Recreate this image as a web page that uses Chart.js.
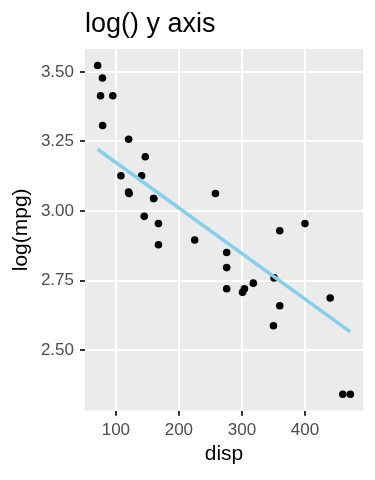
<!DOCTYPE html>
<html lang="en">
<head>
  <meta charset="UTF-8">
  <title>log() y axis</title>
  <script src="https://cdn.jsdelivr.net/npm/chart.js"></script>
  <style>
    body { margin: 0; background: #fff; }
    canvas { display: block; }
  </style>
</head>
<body>
  <canvas id="chart" width="375" height="480"></canvas>

  <script>
    // mtcars: disp vs log(mpg)
    const disp = [160, 160, 108, 258, 360, 225, 360, 146.7, 140.8, 167.6, 167.6, 275.8, 275.8, 275.8,
                  472, 460, 440, 78.7, 75.7, 71.1, 120.1, 318, 304, 350, 400, 79, 120.3, 95.1, 351, 145, 301, 121];
    const logMpg = [3.045, 3.045, 3.127, 3.063, 2.929, 2.896, 2.660, 3.195, 3.127, 2.955, 2.879, 2.797, 2.851, 2.721,
                    2.342, 2.342, 2.688, 3.478, 3.414, 3.523, 3.068, 2.741, 2.721, 2.588, 2.955, 3.307, 3.258, 3.414, 2.760, 2.981, 2.708, 3.063];

    // fitted line (lm), read at both ends
    const fitX = [71.1, 472];
    const fitY = [3.222, 2.566];

    const xMajor = [100, 200, 300, 400];
    const xMinor = [150, 250, 350, 450];
    const yMajor = [2.5, 2.75, 3.0, 3.25, 3.5];
    const yMinor = [2.375, 2.625, 2.875, 3.125, 3.375];

    const FONT = "'Liberation Sans', Arial, sans-serif";

    const panelBg = {
      id: 'panelBg',
      beforeDraw(chart) {
        const { ctx, chartArea: a } = chart;
        ctx.save();
        ctx.fillStyle = '#EBEBEB';
        ctx.fillRect(a.left, a.top, a.right - a.left, a.bottom - a.top);
        ctx.restore();
      },
      afterDraw(chart) {
        const ctx = chart.ctx;
        ctx.save();
        ctx.fillStyle = '#000';
        ctx.font = '27px ' + FONT;
        ctx.textBaseline = 'alphabetic';
        ctx.fillText('log() y axis', chart.chartArea.left, 32);
        ctx.restore();
      }
    };

    function gridOpts(majors) {
      const isMajor = (c) => c.tick && majors.includes(c.tick.value);
      return {
        color: '#FFFFFF',
        lineWidth: (c) => isMajor(c) ? 2 : 1,
        tickColor: (c) => isMajor(c) ? '#333333' : 'rgba(0,0,0,0)',
        tickWidth: 2,
        tickLength: 5
      };
    }

    new Chart(document.getElementById('chart'), {
      type: 'scatter',
      data: {
        datasets: [
          {
            type: 'line',
            data: fitX.map((x, i) => ({ x: x, y: fitY[i] })),
            borderColor: '#87CEEB',
            borderWidth: 3.5,
            pointRadius: 0,
            fill: false,
            order: 0
          },
          {
            data: disp.map((x, i) => ({ x: x, y: logMpg[i] })),
            backgroundColor: '#000000',
            borderWidth: 0,
            pointRadius: 3.8,
            order: 1
          }
        ]
      },
      options: {
        responsive: false,
        animation: false,
        layout: { padding: { left: 0, right: 12, top: 49, bottom: 0 } },
        plugins: {
          legend: { display: false },
          tooltip: { enabled: false }
        },
        scales: {
          x: {
            type: 'linear',
            min: 51.05,
            max: 492.05,
            afterBuildTicks: (s) => { s.ticks = xMajor.concat(xMinor).sort((a, b) => a - b).map(v => ({ value: v })); },
            afterFit: (s) => { s.height = 69.3; },
            border: { display: false },
            grid: gridOpts(xMajor),
            ticks: {
              autoSkip: false,
              maxRotation: 0,
              padding: 4,
              color: '#4D4D4D',
              font: { family: FONT, size: 17 },
              callback: (v) => xMajor.includes(v) ? String(v) : null
            },
            title: {
              display: true,
              text: 'disp',
              color: '#000',
              font: { family: FONT, size: 21 },
              padding: { top: 0, bottom: 13 }
            }
          },
          y: {
            type: 'linear',
            min: 2.283,
            max: 3.582,
            afterBuildTicks: (s) => { s.ticks = yMajor.concat(yMinor).sort((a, b) => a - b).map(v => ({ value: v })); },
            afterFit: (s) => { s.width = 85; },
            border: { display: false },
            grid: gridOpts(yMajor),
            ticks: {
              autoSkip: false,
              padding: 6,
              color: '#4D4D4D',
              font: { family: FONT, size: 17 },
              callback: (v) => yMajor.includes(v) ? v.toFixed(2) : null
            },
            title: {
              display: true,
              text: 'log(mpg)',
              color: '#000',
              font: { family: FONT, size: 21 },
              padding: { top: 9, bottom: 0 }
            }
          }
        }
      },
      plugins: [panelBg]
    });
  </script>
</body>
</html>
